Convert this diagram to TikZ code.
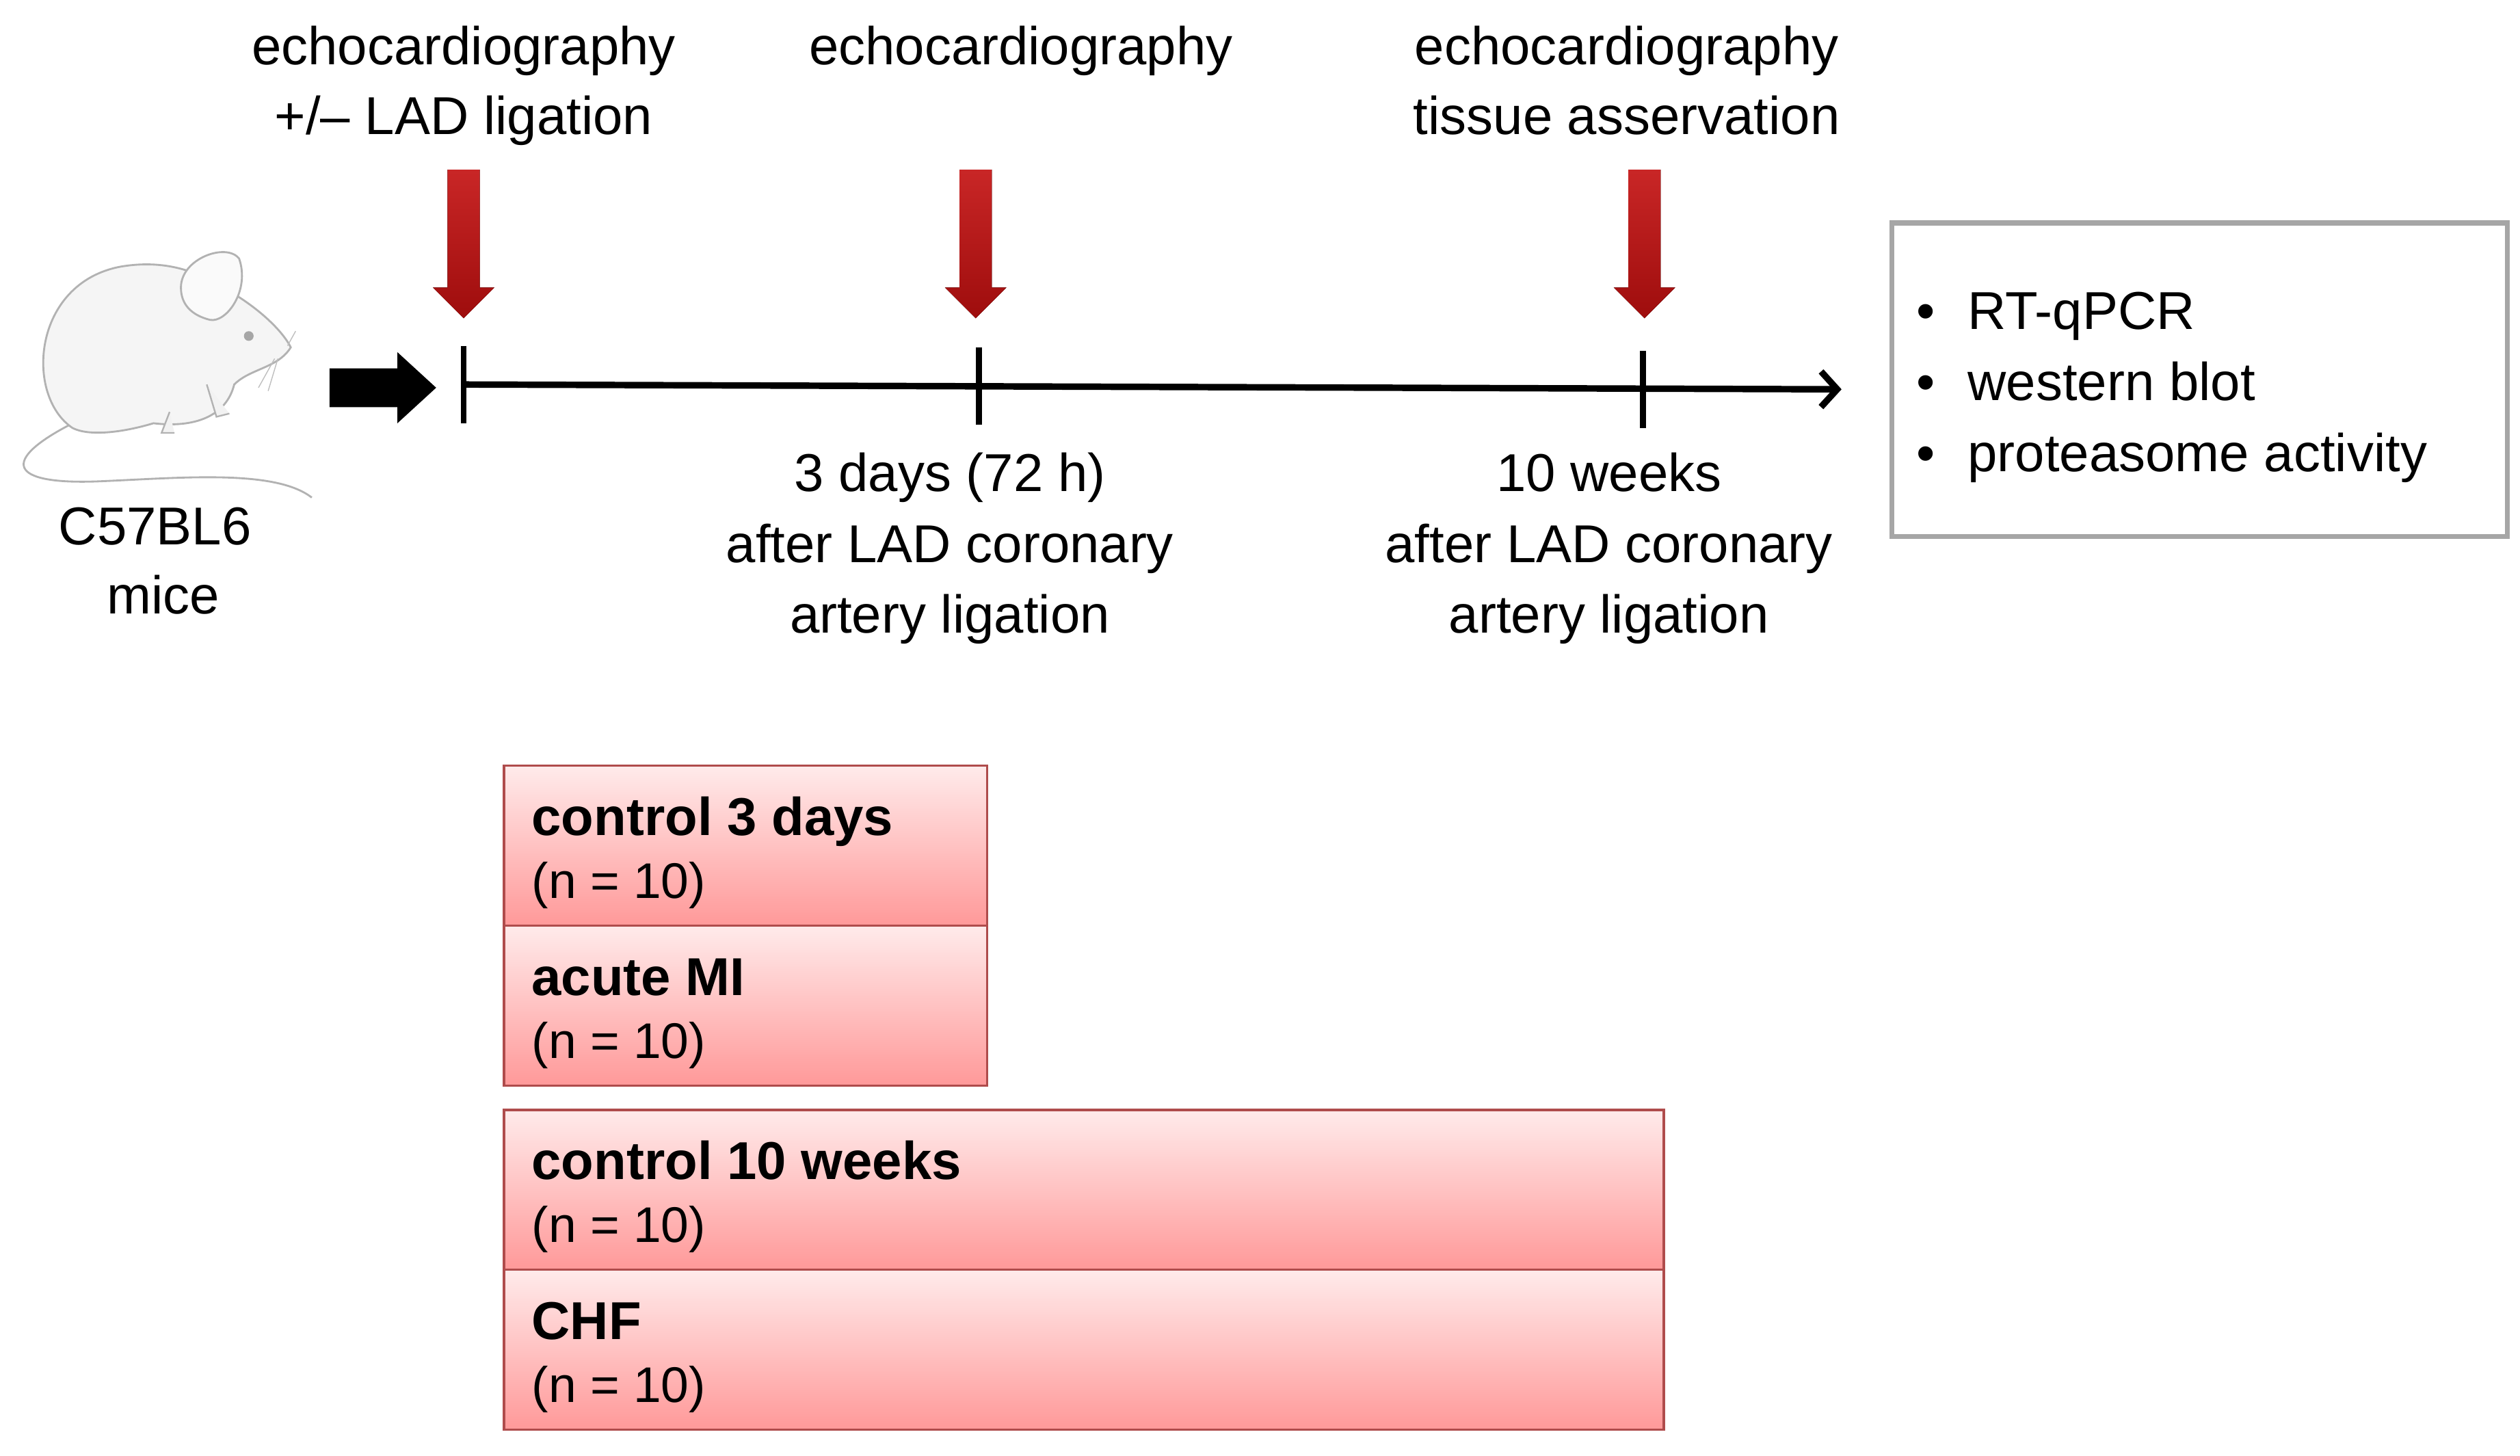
\documentclass[tikz,border=0pt]{standalone}
\usepackage{fontspec}
\setmainfont{Liberation Sans}
\usetikzlibrary{arrows.meta}
\begin{document}
\begin{tikzpicture}[x=1pt,y=-1pt,
  lbl/.style={font=\fontsize{33}{40}\selectfont,inner sep=0pt,anchor=base},
  grp/.style={draw=red!55!black!70,line width=1.5pt,top color=red!8,bottom color=red!40},
  redfill/.style={top color=red!75!black!85,bottom color=red!60!black!95,draw=none},
  tick/.style={line width=3.5pt}]
\useasboundingbox (0,0) rectangle (1560,901);
% mouse
\draw[gray!60,line width=1.2pt] (45,262) .. controls (0,285) and (5,300) .. (60,298) .. controls (110,296) and (170,290) .. (193,308);
\draw[gray!60,line width=1.2pt,fill=gray!8] (45,265) .. controls (15,245) and (20,175) .. (75,165) .. controls (105,160) and (125,170) .. (138,178) .. controls (160,190) and (175,205) .. (180,215) .. controls (172,228) and (155,228) .. (145,238) .. controls (140,258) and (120,265) .. (95,262) .. controls (75,268) and (55,270) .. (45,265) -- cycle;
\draw[gray!60,line width=1.2pt,fill=gray!4] (112,178) .. controls (112,160) and (140,150) .. (148,160) .. controls (155,180) and (140,200) .. (130,198) .. controls (118,195) and (112,188) .. (112,178) -- cycle;
\draw[gray!60,line width=1pt,fill=gray!10] (128,238) -- (134,258) -- (142,256) (105,255) -- (100,268) -- (108,268);
\fill[gray!70] (154,208) circle (3);
\draw[gray!50,line width=0.6pt] (170,222) -- (160,240) (172,222) -- (166,242) (178,214) -- (183,205);
\node[lbl] (m1) at (96,337) {C57BL6};
\node[lbl] (m2) at (101,380) {mice};
% block arrow
\fill[black] (204,228) -- (246,228) -- (246,218) -- (270,240) -- (246,262) -- (246,252) -- (204,252) -- cycle;
% timeline
\coordinate (t0) at (287,238);
\coordinate (t1) at (606,239);
\coordinate (t2) at (1017,241);
\coordinate (tend) at (1140,241);
\draw[line width=4pt,-{Straight Barb[length=10pt,width=22pt]}] (t0) -- (tend);
\foreach \c in {t0,t1,t2} \draw[tick] ([yshift=-24pt]\c) -- ([yshift=24pt]\c);
% red arrows
\foreach \x in {287,604,1018}
  \fill[redfill] (\x-10,105) -- (\x+10,105) -- (\x+10,178) -- (\x+19,178) -- (\x,197) -- (\x-19,178) -- (\x-10,178) -- cycle;
% top labels
\node[lbl] (l0a) at (287,40) {echocardiography};
\node[lbl] (l0b) at (287,83) {+/– LAD ligation};
\node[lbl] (l1a) at (632,40) {echocardiography};
\node[lbl] (l2a) at (1007,40) {echocardiography};
\node[lbl] (l2b) at (1007,83) {tissue asservation};
% bottom labels
\node[lbl] at (588,304) {3 days (72 h)};
\node[lbl] at (588,348) {after LAD coronary};
\node[lbl] at (588,392) {artery ligation};
\node[lbl] at (996,304) {10 weeks};
\node[lbl] at (996,348) {after LAD coronary};
\node[lbl] at (996,392) {artery ligation};
% analysis box
\draw[gray!70,line width=3pt] (1171,138) rectangle (1552,332);
\foreach \y/\t in {204/RT-qPCR,248/western blot,292/proteasome activity}{
  \node[lbl,anchor=base west] at (1186,\y) {•};
  \node[lbl,anchor=base west] at (1218,\y) {\t};}
% groups
\draw[grp] (312,474) rectangle (611,573);
\draw[grp] (312,573) rectangle (611,672);
\draw[grp] (312,687) rectangle (1030,786);
\draw[grp] (312,786) rectangle (1030,885);
\foreach \y/\t in {474/control 3 days,573/acute MI,687/control 10 weeks,786/CHF}{
  \node[lbl,anchor=base west,font=\fontsize{33}{40}\selectfont\bfseries] at (329,\y+43) {\t};
  \node[lbl,anchor=base west,font=\fontsize{31}{36}\selectfont] at (329,\y+82) {(n = 10)};}
\end{tikzpicture}
\end{document}
